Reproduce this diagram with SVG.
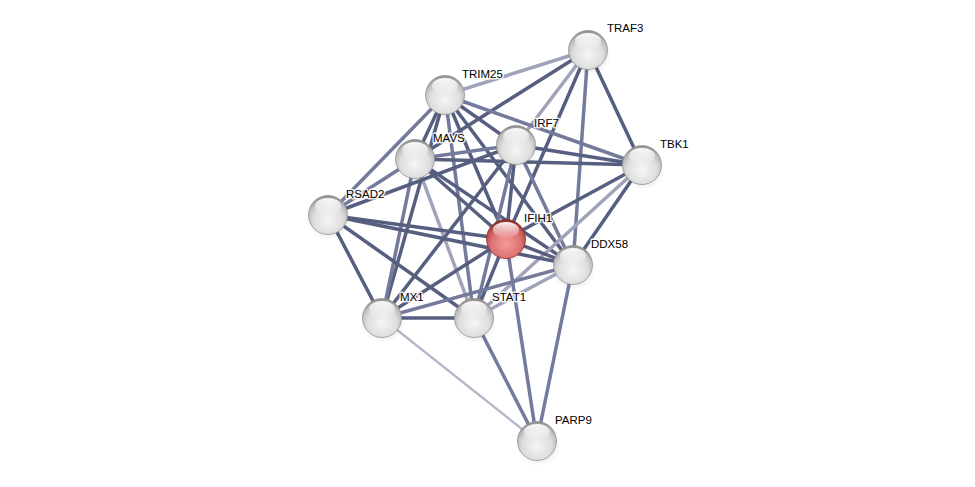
<svg xmlns="http://www.w3.org/2000/svg" width="975" height="487" viewBox="0 0 975 487">
<defs>
<radialGradient id="gw" cx="0.5" cy="0.62" r="0.58">
<stop offset="0" stop-color="#f6f6f6"/>
<stop offset="0.65" stop-color="#dedede"/>
<stop offset="0.9" stop-color="#bcbcbc"/>
<stop offset="1" stop-color="#939393"/>
</radialGradient>
<radialGradient id="gr" cx="0.5" cy="0.62" r="0.58">
<stop offset="0" stop-color="#f49a9a"/>
<stop offset="0.65" stop-color="#dc7272"/>
<stop offset="0.9" stop-color="#bb4e4e"/>
<stop offset="1" stop-color="#8e2f2f"/>
</radialGradient>
<linearGradient id="hl" x1="0" y1="0" x2="0" y2="1">
<stop offset="0" stop-color="#ffffff" stop-opacity="0.95"/>
<stop offset="1" stop-color="#ffffff" stop-opacity="0.05"/>
</linearGradient>
<radialGradient id="sh" cx="0.5" cy="0.5" r="0.5">
<stop offset="0" stop-color="#000" stop-opacity="0.22"/>
<stop offset="1" stop-color="#000" stop-opacity="0"/>
</radialGradient>
<g id="ball">
<ellipse cx="1" cy="5" rx="22" ry="20" fill="url(#sh)"/>
<circle r="19.5" fill="url(#gw)" stroke="#959595" stroke-width="0.8"/>
<ellipse cx="0" cy="-9" rx="13" ry="8" fill="url(#hl)"/>
</g>
<g id="ballr">
<ellipse cx="1" cy="5" rx="22" ry="20" fill="url(#sh)"/>
<circle r="19.5" fill="url(#gr)" stroke="#8a3030" stroke-width="0.8"/>
<ellipse cx="0" cy="-9" rx="13" ry="8" fill="url(#hl)"/>
</g>
</defs>
<style>
.e{stroke-width:3.5;stroke-linecap:butt;fill:none}
.d{stroke:#575f80}
.m{stroke:#737a9b}
.l{stroke:#9fa4bb}
.x{stroke:#b4b7c8;stroke-width:2.4}
text{font-family:"Liberation Sans",Arial,sans-serif;font-size:11.5px;fill:#000;stroke:#fff;stroke-width:3;stroke-opacity:0.85;paint-order:stroke;stroke-linejoin:round}
</style>
<rect width="975" height="487" fill="#fff"/>
<g id="edges">
<line class="e l" x1="588" y1="50" x2="445" y2="95"/>
<line class="e d" x1="588" y1="50" x2="415" y2="159"/>
<line class="e l" x1="588" y1="50" x2="516" y2="145"/>
<line class="e d" x1="588" y1="50" x2="506" y2="239"/>
<line class="e m" x1="588" y1="50" x2="573" y2="265"/>
<line class="e d" x1="588" y1="50" x2="642" y2="165"/>
<line class="e m" x1="445" y1="95" x2="328" y2="215"/>
<line class="e d" x1="445" y1="95" x2="415" y2="159"/>
<line class="e d" x1="445" y1="95" x2="382" y2="318"/>
<line class="e m" x1="445" y1="95" x2="474" y2="318"/>
<line class="e d" x1="445" y1="95" x2="506" y2="239"/>
<line class="e d" x1="445" y1="95" x2="573" y2="265"/>
<line class="e m" x1="445" y1="95" x2="642" y2="165"/>
<line class="e d" x1="445" y1="95" x2="516" y2="145"/>
<line class="e m" x1="415" y1="159" x2="516" y2="145"/>
<line class="e d" x1="415" y1="159" x2="642" y2="165"/>
<line class="e m" x1="415" y1="159" x2="328" y2="215"/>
<line class="e d" x1="415" y1="159" x2="506" y2="239"/>
<line class="e d" x1="415" y1="159" x2="573" y2="265"/>
<line class="e m" x1="415" y1="159" x2="382" y2="318"/>
<line class="e l" x1="415" y1="159" x2="474" y2="318"/>
<line class="e d" x1="516" y1="145" x2="642" y2="165"/>
<line class="e d" x1="516" y1="145" x2="328" y2="215"/>
<line class="e d" x1="516" y1="145" x2="506" y2="239"/>
<line class="e m" x1="516" y1="145" x2="573" y2="265"/>
<line class="e m" x1="516" y1="145" x2="474" y2="318"/>
<line class="e d" x1="516" y1="145" x2="382" y2="318"/>
<line class="e d" x1="642" y1="165" x2="506" y2="239"/>
<line class="e d" x1="642" y1="165" x2="573" y2="265"/>
<line class="e l" x1="642" y1="165" x2="474" y2="318"/>
<line class="e d" x1="328" y1="215" x2="506" y2="239"/>
<line class="e d" x1="328" y1="215" x2="573" y2="265"/>
<line class="e d" x1="328" y1="215" x2="382" y2="318"/>
<line class="e d" x1="328" y1="215" x2="474" y2="318"/>
<line class="e d" x1="506" y1="239" x2="573" y2="265"/>
<line class="e d" x1="506" y1="239" x2="382" y2="318"/>
<line class="e d" x1="506" y1="239" x2="474" y2="318"/>
<line class="e m" x1="506" y1="239" x2="537" y2="441"/>
<line class="e m" x1="573" y1="265" x2="382" y2="318"/>
<line class="e l" x1="573" y1="265" x2="474" y2="318"/>
<line class="e m" x1="573" y1="265" x2="537" y2="441"/>
<line class="e d" x1="382" y1="318" x2="474" y2="318"/>
<line class="e x" x1="382" y1="318" x2="537" y2="441"/>
<line class="e m" x1="474" y1="318" x2="537" y2="441"/>
</g>
<g id="TRAF3"><use href="#ball" x="588" y="50"/><text x="607" y="32">TRAF3</text></g>
<g id="TRIM25"><use href="#ball" x="445" y="95"/><text x="462" y="78">TRIM25</text></g>
<g id="IRF7"><use href="#ball" x="516" y="145"/><text x="534" y="127">IRF7</text></g>
<g id="MAVS"><use href="#ball" x="415" y="159"/><text x="433" y="142">MAVS</text></g>
<g id="TBK1"><use href="#ball" x="642" y="165"/><text x="660" y="148">TBK1</text></g>
<g id="RSAD2"><use href="#ball" x="328" y="215"/><text x="346" y="198">RSAD2</text></g>
<g id="IFIH1"><use href="#ballr" x="506" y="239"/><text x="524" y="222">IFIH1</text></g>
<g id="DDX58"><use href="#ball" x="573" y="265"/><text x="591" y="248">DDX58</text></g>
<g id="MX1"><use href="#ball" x="382" y="318"/><text x="400" y="301">MX1</text></g>
<g id="STAT1"><use href="#ball" x="474" y="318"/><text x="492" y="301">STAT1</text></g>
<g id="PARP9"><use href="#ball" x="537" y="441"/><text x="555" y="424">PARP9</text></g>
</svg>
